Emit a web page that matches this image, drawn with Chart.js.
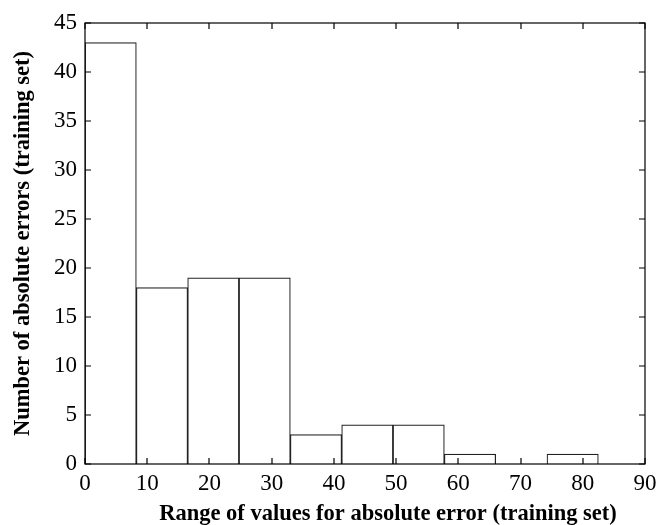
<!DOCTYPE html>
<html>
<head>
<meta charset="utf-8">
<script src="https://cdn.jsdelivr.net/npm/chart.js@4.4.1/dist/chart.umd.min.js"></script>
<style>
  html, body { margin: 0; padding: 0; background: #fff; }
  #wrap { width: 659px; height: 525px; }
</style>
</head>
<body>
<div id="wrap"><canvas id="chart" width="659" height="525"></canvas></div>
<script>
// histogram bins (width 8.25), left edges from 0
const binWidth = 8.25;
const binStarts = [0, 8.25, 16.5, 24.75, 33, 41.25, 49.5, 57.75, 66, 74.25];
const counts = [43, 18, 19, 19, 3, 4, 4, 1, 0, 1];
const xTicks = [0, 10, 20, 30, 40, 50, 60, 70, 80, 90];
const yTicks = [0, 5, 10, 15, 20, 25, 30, 35, 40, 45];
const xTitle = "Range of values for absolute error (training set)";
const yTitle = "Number of absolute errors (training set)";

const points = binStarts.map((s, i) => ({ x: s + binWidth / 2, y: counts[i] }));

// inward tick marks on all four sides, box, and the x title (sits a bit right of centre)
const boxTicks = {
  id: "boxTicks",
  afterDraw(chart) {
    const { ctx, chartArea: a, scales } = chart;
    ctx.save();
    ctx.strokeStyle = "#000";
    ctx.lineWidth = 1.2;
    ctx.strokeRect(a.left, a.top, a.right - a.left, a.bottom - a.top);
    ctx.beginPath();
    xTicks.forEach((v) => {
      const px = Math.round(scales.x.getPixelForValue(v));
      ctx.moveTo(px, a.bottom); ctx.lineTo(px, a.bottom - 6);
      ctx.moveTo(px, a.top); ctx.lineTo(px, a.top + 6);
    });
    yTicks.forEach((v) => {
      const py = Math.round(scales.y.getPixelForValue(v));
      ctx.moveTo(a.left, py); ctx.lineTo(a.left + 6, py);
      ctx.moveTo(a.right, py); ctx.lineTo(a.right - 6, py);
    });
    ctx.stroke();

    ctx.fillStyle = "#000";
    ctx.font = "bold 22.5px 'Liberation Serif'";
    ctx.textAlign = "center";
    ctx.textBaseline = "alphabetic";
    ctx.fillText(xTitle, (a.left + a.right) / 2 + 23, chart.height - 5);
    ctx.restore();
  },
};

new Chart(document.getElementById("chart"), {
  type: "bar",
  data: {
    datasets: [
      {
        data: points,
        backgroundColor: "#fff",
        borderColor: "#222",
        borderWidth: 1.2,
        barPercentage: 1,
        categoryPercentage: 1,
      },
    ],
  },
  plugins: [boxTicks],
  options: {
    responsive: false,
    animation: false,
    layout: { padding: { left: 10, right: 14, top: 23, bottom: 2 } },
    plugins: { legend: { display: false }, tooltip: { enabled: false } },
    scales: {
      x: {
        type: "linear",
        min: 0,
        max: 90,
        offset: false,
        grid: { display: false, drawTicks: false },
        border: { display: false },
        afterBuildTicks: (s) => { s.ticks = xTicks.map((v) => ({ value: v })); },
        afterFit: (s) => { s.height = 59; s.paddingLeft = 0; s.paddingRight = 0; },
        ticks: {
          color: "#000",
          padding: 6,
          maxRotation: 0,
          font: { family: "Liberation Serif", size: 23 },
        },
        title: { display: false },
      },
      y: {
        min: 0,
        max: 45,
        grid: { display: false, drawTicks: false },
        border: { display: false },
        afterBuildTicks: (s) => { s.ticks = yTicks.map((v) => ({ value: v })); },
        afterFit: (s) => { s.width = 75; s.paddingTop = 0; s.paddingBottom = 0; },
        ticks: {
          color: "#000",
          padding: 8,
          font: { family: "Liberation Serif", size: 23 },
        },
        title: {
          display: true,
          text: yTitle,
          color: "#000",
          padding: { top: 0, bottom: 8 },
          font: { family: "Liberation Serif", size: 22.5, weight: "bold" },
        },
      },
    },
  },
});
</script>
</body>
</html>
